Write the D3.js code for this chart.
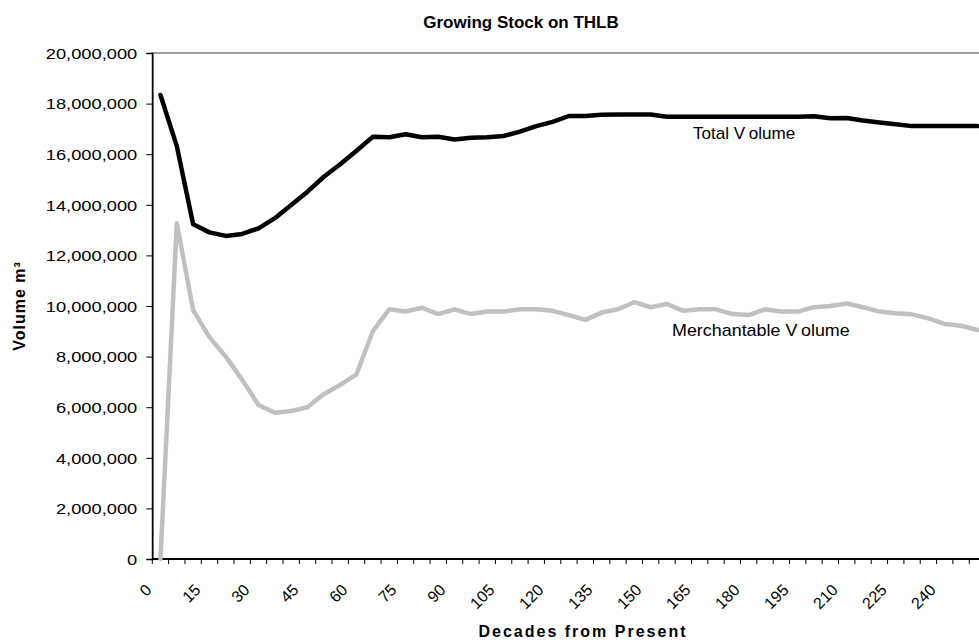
<!DOCTYPE html>
<html>
<head>
<meta charset="utf-8">
<script src="https://cdn.jsdelivr.net/npm/d3@7"></script>
<style>
  html, body { margin: 0; padding: 0; background: #fff; }
  svg { display: block; font-family: "Liberation Sans", Arial, sans-serif; }
</style>
</head>
<body>
<svg id="chart" width="979" height="644"></svg>
<script>
// ---- data ----
const decades = [0,5,10,15,20,25,30,35,40,45,50,55,60,65,70,75,80,85,90,95,100,105,110,115,120,125,130,135,140,145,150,155,160,165,170,175,180,185,190,195,200,205,210,215,220,225,230,235,240,245,250];
const totalVolume = [18340000,16320000,13230000,12910000,12770000,12850000,13070000,13470000,13990000,14520000,15110000,15600000,16140000,16690000,16670000,16790000,16670000,16690000,16580000,16650000,16670000,16720000,16890000,17110000,17280000,17510000,17510000,17560000,17570000,17570000,17570000,17480000,17480000,17480000,17480000,17480000,17480000,17480000,17480000,17480000,17500000,17420000,17430000,17330000,17250000,17180000,17110000,17110000,17110000,17110000,17110000];
const merchVolume = [0,13270000,9840000,8760000,8000000,7080000,6090000,5780000,5850000,6000000,6520000,6880000,7300000,9010000,9870000,9780000,9930000,9680000,9870000,9680000,9780000,9780000,9870000,9870000,9810000,9640000,9450000,9740000,9870000,10150000,9950000,10080000,9810000,9870000,9870000,9680000,9640000,9870000,9780000,9780000,9950000,10000000,10100000,9950000,9780000,9710000,9670000,9510000,9290000,9220000,9050000];
const yTicks = [0,2000000,4000000,6000000,8000000,10000000,12000000,14000000,16000000,18000000,20000000];
const xLabelEvery = 3;
const titleText = "Growing Stock on THLB";
const xTitle = "Decades from Present";
const yTitle = "Volume m³";
const seriesNames = ["Total Volume", "Merchantable Volume"];

// ---- layout ----
const pLeft = 152.3, pRight = 985.6, pTop = 53, pBottom = 559;
const svg = d3.select("#chart");

const x = d3.scaleBand().domain(decades).range([pLeft, pRight]).padding(0);
const y = d3.scaleLinear().domain([0, 20000000]).range([pBottom, pTop]);
const cx = d => x(d) + x.bandwidth() / 2;

// plot area border
svg.append("rect")
  .attr("x", pLeft).attr("y", pTop)
  .attr("width", pRight - pLeft).attr("height", pBottom - pTop)
  .attr("fill", "none").attr("stroke", "#808080").attr("stroke-width", 1.5);

// title
svg.append("text")
  .attr("x", 521).attr("y", 28)
  .attr("text-anchor", "middle")
  .attr("font-weight", "bold").attr("font-size", 17)
  .attr("fill", "#000")
  .text(titleText);

// y axis
const yAxis = svg.append("g")
  .attr("transform", `translate(${pLeft},0)`)
  .call(d3.axisLeft(y).tickValues(yTicks).tickSize(6).tickPadding(8).tickFormat(d3.format(",")));
yAxis.select(".domain").attr("stroke", "#000").attr("stroke-width", 1.5);
yAxis.selectAll(".tick line").attr("stroke", "#000").attr("stroke-width", 1);
yAxis.selectAll(".tick text")
  .attr("font-size", 15).attr("fill", "#000")
  .attr("font-family", "'Liberation Sans', Arial, sans-serif")
  .attr("x", null).attr("dy", "0.35em")
  .attr("transform", "translate(-15,0) scale(1.22,1)");

// x axis line and ticks
const xg = svg.append("g");
xg.append("line")
  .attr("x1", pLeft).attr("x2", pRight).attr("y1", pBottom).attr("y2", pBottom)
  .attr("stroke", "#000").attr("stroke-width", 2);
xg.selectAll("line.tk")
  .data(decades)
  .join("line").attr("class", "tk")
  .attr("x1", d => x(d)).attr("x2", d => x(d))
  .attr("y1", pBottom).attr("y2", pBottom + 5)
  .attr("stroke", "#000").attr("stroke-width", 1);
xg.selectAll("text.lbl")
  .data(decades.filter((d, i) => i % xLabelEvery === 0))
  .join("text").attr("class", "lbl")
  .attr("text-anchor", "end")
  .attr("font-size", 16).attr("fill", "#000")
  .attr("transform", d => `translate(${cx(d) - 8},${pBottom + 32}) rotate(-45)`)
  .text(d => d);

// axis titles
svg.append("text")
  .attr("x", 583).attr("y", 637)
  .attr("text-anchor", "middle")
  .attr("font-weight", "bold").attr("font-size", 16)
  .attr("letter-spacing", "2px")
  .attr("fill", "#000")
  .text(xTitle);
svg.append("text")
  .attr("transform", "translate(25,306) rotate(-90)")
  .attr("text-anchor", "middle")
  .attr("font-weight", "bold").attr("font-size", 16)
  .attr("letter-spacing", "1px")
  .attr("fill", "#000")
  .text(yTitle);

// lines
const line = d3.line().x((d, i) => cx(decades[i])).y(d => y(d));
svg.append("path")
  .datum(merchVolume)
  .attr("d", line)
  .attr("fill", "none").attr("stroke", "#C0C0C0").attr("stroke-width", 4.5)
  .attr("stroke-linejoin", "round").attr("stroke-linecap", "round");
svg.append("path")
  .datum(totalVolume)
  .attr("d", line)
  .attr("fill", "none").attr("stroke", "#000").attr("stroke-width", 4.5)
  .attr("stroke-linejoin", "round").attr("stroke-linecap", "round");

// series labels
svg.append("text")
  .attr("x", 693).attr("y", 139)
  .attr("font-size", 16).attr("fill", "#000")
  .attr("transform", "translate(693,0) scale(1.07,1) translate(-693,0)")
  .text("Total V\u2009olume");
svg.append("text")
  .attr("x", 672).attr("y", 336)
  .attr("font-size", 16).attr("fill", "#000")
  .attr("transform", "translate(672,0) scale(1.12,1) translate(-672,0)")
  .text("Merchantable V\u2009olume");
</script>
</body>
</html>
